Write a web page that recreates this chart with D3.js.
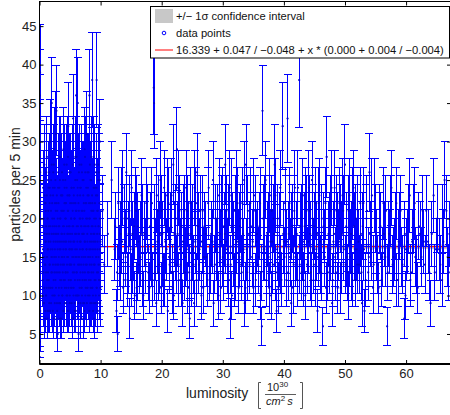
<!DOCTYPE html>
<html>
<head>
<meta charset="utf-8">
<script src="https://cdn.jsdelivr.net/npm/d3@7"></script>
<style>
  body { margin: 0; background: #fff; }
  text { font-family: "Liberation Sans", Arial, Helvetica, sans-serif; }
</style>
</head>
<body>
<div id="chart"></div>
<script>
// [luminosity, counts per 5 min]
const offPoints = [
  [0.05, 2], [0.08, 4], [0.1, 5], [0.06, 7], [0.12, 8], [0.09, 10], [0.04, 11], [0.11, 13],
  [0.07, 15], [0.13, 17], [0.05, 19], [0.1, 21], [0.08, 23], [0.12, 26], [0.06, 28], [0.09, 30],
  [0.11, 33], [0.07, 36], [0.1, 39], [0.05, 42]
];

const densePoints = [
  [0.55, 12], [0.62, 19], [0.68, 9], [0.75, 15], [0.81, 23], [0.87, 14], [0.93, 8], [0.98, 17],
  [1.03, 21], [1.08, 13], [1.12, 26], [1.17, 11], [1.22, 18], [1.27, 15], [1.31, 7], [1.36, 20],
  [1.41, 16], [1.46, 24], [1.51, 12], [1.55, 19], [1.6, 9], [1.65, 22], [1.7, 14], [1.75, 30],
  [1.8, 17], [1.85, 11], [1.9, 25], [1.95, 15],
  [2.0, 35], [2.04, 13], [2.09, 20], [2.13, 16], [2.18, 8], [2.22, 23], [2.27, 18], [2.31, 12],
  [2.36, 27], [2.4, 15], [2.45, 19], [2.5, 10], [2.54, 22], [2.59, 14], [2.63, 17], [2.68, 31],
  [2.72, 13], [2.77, 34], [2.82, 18], [2.86, 9], [2.91, 21], [2.96, 16],
  [3.0, 5], [3.04, 24], [3.09, 14], [3.13, 19], [3.18, 11], [3.22, 17], [3.27, 28], [3.31, 13],
  [3.36, 20], [3.4, 7], [3.45, 16], [3.5, 23], [3.54, 12], [3.59, 18], [3.63, 15], [3.68, 26],
  [3.72, 10], [3.77, 21], [3.82, 14], [3.86, 17], [3.91, 29], [3.95, 12],
  [4.0, 19], [4.04, 15], [4.09, 22], [4.13, 9], [4.18, 17], [4.22, 25], [4.27, 13], [4.31, 20],
  [4.36, 16], [4.4, 11], [4.45, 27], [4.5, 14], [4.54, 18], [4.59, 8], [4.63, 21], [4.68, 15],
  [4.72, 32], [4.77, 12], [4.82, 19], [4.86, 16], [4.91, 23], [4.95, 10],
  [5.0, 18], [5.04, 14], [5.09, 26], [5.13, 12], [5.18, 20], [5.22, 16], [5.27, 9], [5.31, 22],
  [5.36, 15], [5.4, 19], [5.45, 13], [5.5, 33], [5.54, 17], [5.59, 11], [5.63, 24], [5.68, 14],
  [5.72, 20], [5.77, 8], [5.82, 18], [5.86, 28], [5.91, 15], [5.95, 21],
  [6.0, 36], [6.04, 13], [6.09, 19], [6.13, 16], [6.18, 10], [6.22, 23], [6.27, 35], [6.31, 14],
  [6.36, 18], [6.4, 5], [6.45, 21], [6.5, 15], [6.54, 27], [6.59, 12], [6.63, 17], [6.68, 20],
  [6.72, 9], [6.77, 24], [6.82, 14], [6.86, 19], [6.91, 11], [6.95, 26],
  [7.0, 16], [7.04, 21], [7.09, 13], [7.13, 18], [7.18, 7], [7.22, 25], [7.27, 15], [7.31, 19],
  [7.36, 12], [7.4, 29], [7.45, 17], [7.5, 10], [7.54, 22], [7.59, 14], [7.63, 20], [7.68, 16],
  [7.72, 31], [7.77, 11], [7.82, 18], [7.86, 23], [7.91, 13], [7.95, 19],
  [8.0, 15], [8.04, 26], [8.09, 12], [8.13, 20], [8.18, 36], [8.22, 14], [8.27, 17], [8.31, 9],
  [8.36, 22], [8.4, 16], [8.45, 28], [8.5, 13], [8.54, 19], [8.59, 11], [8.63, 38], [8.68, 15],
  [8.72, 21], [8.77, 8], [8.82, 18], [8.86, 24], [8.91, 14], [8.95, 20],
  [9.0, 12], [9.05, 27], [9.1, 16], [9.15, 19], [9.2, 10], [9.25, 23], [9.3, 15], [9.35, 38],
  [9.4, 13], [9.45, 21], [9.5, 17], [9.55, 9], [9.6, 25], [9.65, 14], [9.7, 19], [9.75, 12],
  [9.8, 22], [9.85, 16], [9.9, 30], [9.95, 11]
];

const densePoints2 = [
  [0.58, 16], [0.65, 13], [0.71, 20], [0.78, 11], [0.84, 18], [0.9, 22], [0.96, 14],
  [1.01, 17], [1.06, 10], [1.1, 19], [1.15, 15], [1.2, 23], [1.25, 12], [1.29, 20], [1.34, 16],
  [1.39, 13], [1.44, 21], [1.49, 17], [1.53, 8], [1.58, 18], [1.63, 14], [1.68, 24], [1.73, 11],
  [1.78, 19], [1.83, 16], [1.88, 21], [1.93, 13], [1.98, 18],
  [2.02, 15], [2.07, 22], [2.11, 11], [2.16, 19], [2.2, 14], [2.25, 26], [2.29, 17], [2.34, 10],
  [2.38, 20], [2.43, 13], [2.48, 24], [2.52, 16], [2.57, 18], [2.61, 12], [2.66, 21], [2.7, 15],
  [2.75, 19], [2.8, 7], [2.84, 23], [2.89, 14], [2.93, 17], [2.98, 20],
  [3.02, 13], [3.07, 18], [3.11, 22], [3.16, 15], [3.2, 9], [3.25, 19], [3.29, 16], [3.34, 25],
  [3.38, 12], [3.43, 20], [3.48, 14], [3.52, 17], [3.57, 21], [3.61, 11], [3.66, 18], [3.7, 15],
  [3.75, 23], [3.8, 13], [3.84, 19], [3.89, 16], [3.93, 8], [3.98, 21],
  [4.02, 14], [4.07, 18], [4.11, 24], [4.16, 12], [4.2, 20], [4.25, 16], [4.29, 13], [4.34, 22],
  [4.38, 17], [4.43, 10], [4.48, 19], [4.52, 15], [4.57, 23], [4.61, 13], [4.66, 18], [4.7, 21],
  [4.75, 11], [4.8, 17], [4.84, 26], [4.89, 14], [4.93, 19], [4.98, 16],
  [5.02, 22], [5.07, 12], [5.11, 17], [5.16, 20], [5.2, 14], [5.25, 24], [5.29, 11], [5.34, 18],
  [5.38, 16], [5.43, 21], [5.48, 7], [5.52, 19], [5.57, 15], [5.61, 23], [5.66, 13], [5.7, 17],
  [5.75, 20], [5.8, 12], [5.84, 16], [5.89, 22], [5.93, 10], [5.98, 18],
  [6.02, 15], [6.07, 21], [6.11, 13], [6.16, 25], [6.2, 17], [6.25, 12], [6.29, 19], [6.34, 15],
  [6.38, 22], [6.43, 10], [6.48, 18], [6.52, 14], [6.57, 20], [6.61, 16], [6.66, 24], [6.7, 13],
  [6.75, 17], [6.8, 19], [6.84, 11], [6.89, 21], [6.93, 15], [6.98, 18],
  [7.02, 12], [7.07, 20], [7.11, 16], [7.16, 23], [7.2, 14], [7.25, 18], [7.29, 9], [7.34, 21],
  [7.38, 17], [7.43, 13], [7.48, 26], [7.52, 15], [7.57, 19], [7.61, 12], [7.66, 22], [7.7, 16],
  [7.75, 14], [7.8, 20], [7.84, 17], [7.89, 11], [7.93, 24], [7.98, 15],
  [8.02, 19], [8.07, 13], [8.11, 22], [8.16, 16], [8.2, 10], [8.25, 20], [8.29, 15], [8.34, 25],
  [8.38, 12], [8.43, 18], [8.48, 21], [8.52, 14], [8.57, 17], [8.61, 23], [8.66, 11], [8.7, 19],
  [8.75, 16], [8.8, 13], [8.84, 21], [8.89, 17], [8.93, 9], [8.98, 18],
  [9.03, 14], [9.08, 22], [9.13, 17], [9.18, 12], [9.23, 20], [9.28, 15], [9.33, 24], [9.38, 11],
  [9.43, 18], [9.48, 16], [9.53, 21], [9.58, 13], [9.63, 19], [9.68, 15], [9.73, 26], [9.78, 12],
  [9.83, 18], [9.88, 20], [9.93, 14], [9.97, 17]
];

const densePoints3 = [
  [0.6, 24], [0.7, 9], [0.8, 27], [0.9, 7], [1.0, 22], [1.1, 10], [1.2, 28], [1.3, 8],
  [1.4, 25], [1.5, 11], [1.6, 26], [1.7, 8], [1.8, 23], [1.9, 9], [2.0, 27], [2.1, 10],
  [2.2, 24], [2.3, 7], [2.4, 29], [2.5, 9], [2.6, 25], [2.7, 11], [2.8, 22], [2.9, 8],
  [3.05, 26], [3.15, 10], [3.25, 24], [3.35, 9], [3.45, 28], [3.55, 7], [3.65, 23], [3.75, 10],
  [3.85, 25], [3.95, 8], [4.05, 27], [4.15, 11], [4.25, 22], [4.35, 9], [4.45, 24], [4.55, 10],
  [4.65, 28], [4.75, 8], [4.85, 23], [4.95, 9], [5.05, 26], [5.15, 11], [5.25, 24], [5.35, 7],
  [5.45, 27], [5.55, 10], [5.65, 22], [5.75, 9], [5.85, 25], [5.95, 8], [6.05, 28], [6.15, 10],
  [6.25, 24], [6.35, 9], [6.45, 26], [6.55, 11], [6.65, 23], [6.75, 7], [6.85, 27], [6.95, 10],
  [7.05, 25], [7.15, 9], [7.25, 22], [7.35, 8], [7.45, 28], [7.55, 11], [7.65, 24], [7.75, 9],
  [7.85, 26], [7.95, 10], [8.05, 23], [8.15, 8], [8.25, 27], [8.35, 11], [8.45, 25], [8.55, 9],
  [8.65, 22], [8.75, 10], [8.85, 28], [8.95, 7], [9.05, 24], [9.15, 9], [9.25, 26], [9.35, 11],
  [9.45, 23], [9.55, 8], [9.65, 27], [9.75, 10], [9.85, 25], [9.92, 9]
];

const sparsePoints = [
  [10.3, 21], [10.6, 14], [11.2, 18], [11.8, 25], [12.3, 16], [12.6, 8], [12.8, 5], [13.0, 19],
  [13.2, 13], [13.4, 22], [13.5, 17], [13.7, 11], [13.9, 20], [14.1, 15], [14.2, 26], [14.4, 12],
  [14.6, 18], [14.8, 7], [14.9, 16], [15.1, 24], [15.3, 14], [15.5, 19], [15.6, 10], [15.8, 21],
  [16.0, 13], [16.2, 17], [16.5, 15], [16.7, 23], [16.9, 12], [17.2, 18], [17.4, 14], [17.7, 20],
  [18.0, 11], [18.2, 16], [18.4, 22], [18.7, 37], [18.75, 35], [18.9, 13], [19.1, 9], [19.3, 17],
  [19.4, 21], [19.6, 14], [19.8, 25], [19.9, 11], [20.1, 18], [20.2, 15], [20.4, 24], [20.5, 12],
  [20.7, 19], [20.8, 16], [21.0, 8], [21.1, 22], [21.3, 14], [21.4, 17], [21.6, 23], [21.7, 13],
  [21.9, 27], [22.0, 10], [22.2, 16], [22.3, 20], [22.5, 29], [22.6, 18], [22.8, 12], [22.9, 21],
  [23.1, 14], [23.2, 19], [23.4, 9], [23.5, 17], [23.7, 21], [23.8, 13], [24.0, 24], [24.1, 16],
  [24.3, 11], [24.4, 18], [24.6, 7], [24.7, 22], [24.9, 12], [25.0, 20], [25.2, 14], [25.3, 9],
  [25.5, 17], [25.6, 22], [25.8, 26], [26.0, 19], [26.2, 16], [26.5, 10], [26.7, 21], [26.9, 15],
  [27.2, 18], [27.5, 12], [27.7, 24], [28.0, 14], [28.3, 17], [28.5, 9], [28.8, 20], [29.0, 16],
  [29.2, 13], [29.4, 23], [29.5, 18], [29.7, 11], [29.9, 22], [30.0, 15], [30.2, 19], [30.4, 27],
  [30.5, 17], [30.6, 21], [30.8, 14], [30.9, 20], [31.0, 12], [31.2, 7], [31.4, 23], [31.5, 10],
  [31.7, 18], [31.8, 15], [32.0, 21], [32.1, 13], [32.3, 24], [32.5, 17], [32.6, 11], [32.8, 19],
  [33.0, 14], [33.2, 22], [33.4, 16], [33.6, 9], [33.8, 27], [34.0, 13], [34.3, 18], [34.5, 22],
  [34.8, 15], [35.0, 11], [35.3, 21], [35.5, 17], [35.8, 14], [36.0, 19], [36.2, 10], [36.4, 6],
  [36.5, 34], [36.7, 16], [36.9, 21], [37.1, 12], [37.3, 18], [37.5, 15], [37.7, 23], [37.9, 10],
  [38.1, 17], [38.3, 20], [38.5, 27], [38.8, 8], [38.9, 16], [39.1, 11], [39.3, 19], [39.5, 14],
  [39.8, 32], [40.0, 17], [40.2, 22], [40.4, 12], [40.6, 33], [40.8, 18], [41.0, 15], [41.2, 9],
  [41.4, 20], [41.6, 14], [41.8, 24], [42.0, 16], [42.2, 12], [42.5, 38], [42.7, 19], [42.9, 13],
  [43.1, 23], [43.3, 17], [43.5, 10], [43.7, 21], [43.9, 15], [44.1, 24], [44.3, 18], [44.5, 12],
  [44.7, 20], [44.9, 14], [45.1, 22], [45.3, 16], [45.5, 8], [45.7, 22], [45.9, 17], [46.1, 13],
  [46.4, 6], [46.5, 19], [46.7, 15], [46.9, 11], [47.0, 28], [47.3, 18], [47.5, 14], [47.7, 21],
  [47.9, 9], [48.1, 17], [48.3, 24], [48.5, 13], [48.7, 19], [48.9, 16], [49.1, 22], [49.3, 11],
  [49.5, 18], [49.7, 21], [50.0, 27], [50.1, 14], [50.3, 15], [50.5, 10], [50.7, 23], [50.9, 17],
  [51.1, 13], [51.3, 22], [51.5, 19], [51.7, 12], [51.9, 16], [52.1, 21], [52.3, 14], [52.6, 18],
  [52.8, 9], [53.0, 22], [53.2, 8], [53.5, 20], [53.8, 13], [54.0, 26], [54.3, 16], [54.6, 11],
  [54.9, 23], [55.1, 17], [55.4, 14], [55.7, 20], [56.0, 12], [56.3, 22], [56.6, 15], [56.9, 6],
  [57.2, 18], [57.5, 21], [57.8, 14], [58.1, 16], [58.4, 22], [58.7, 12], [59.0, 19], [59.3, 15],
  [59.7, 7], [59.9, 10], [60.2, 17], [60.6, 23], [60.8, 13], [61.2, 20], [61.5, 15], [61.9, 11],
  [62.3, 18], [62.7, 21], [63.1, 14], [63.6, 17], [64.0, 9], [64.5, 23], [64.7, 13], [65.4, 16],
  [65.9, 12], [66.0, 20], [66.3, 25], [66.8, 15], [67.1, 18]
];

const sparsePoints2 = [
  [12.4, 19], [12.7, 13], [12.9, 22], [13.1, 15], [13.3, 18], [13.6, 24], [13.8, 12], [14.0, 17],
  [14.3, 20], [14.5, 14], [14.7, 21], [15.0, 12], [15.2, 18], [15.4, 16], [15.7, 22], [15.9, 11],
  [16.1, 19], [16.3, 14], [16.6, 18], [16.8, 20], [17.0, 10], [17.3, 16], [17.5, 22], [17.8, 13],
  [18.1, 19], [18.3, 15], [18.5, 12], [18.8, 20], [19.0, 16], [19.2, 23], [19.5, 13], [19.7, 18],
  [20.0, 21], [20.3, 12], [20.6, 17], [20.9, 23], [21.2, 15], [21.5, 19], [21.8, 11], [22.1, 18],
  [22.4, 14], [22.7, 24], [23.0, 16], [23.3, 12], [23.6, 20], [23.9, 15], [24.2, 21], [24.5, 13],
  [24.8, 18], [25.1, 16], [25.4, 24], [25.7, 12], [25.9, 19], [26.1, 14], [26.3, 21], [26.6, 17],
  [26.8, 11], [27.0, 19], [27.3, 15], [27.6, 22], [27.9, 13], [28.1, 18], [28.4, 25], [28.7, 14],
  [28.9, 16], [29.1, 20], [29.3, 10], [29.6, 17], [29.8, 21], [30.1, 13], [30.35, 18], [30.7, 16],
  [31.1, 24], [31.3, 14], [31.6, 19], [31.9, 12], [32.2, 17], [32.4, 22], [32.7, 15], [32.9, 20],
  [33.1, 13], [33.3, 18], [33.5, 25], [33.7, 11], [33.9, 16], [34.1, 21], [34.4, 14], [34.6, 19],
  [34.9, 17], [35.1, 23], [35.4, 12], [35.6, 18], [35.9, 15], [36.1, 22], [36.3, 13], [36.6, 20],
  [36.8, 16], [37.0, 25], [37.2, 14], [37.4, 19], [37.6, 11], [37.8, 17], [38.0, 21], [38.2, 14],
  [38.4, 18], [38.6, 23], [38.7, 13], [39.0, 20], [39.2, 15], [39.4, 24], [39.6, 12], [39.9, 18],
  [40.1, 15], [40.3, 21], [40.5, 17], [40.7, 13], [40.9, 22], [41.1, 16], [41.3, 19], [41.5, 11],
  [41.7, 21], [41.9, 15], [42.1, 18], [42.3, 24], [42.6, 14], [42.8, 20], [43.0, 16], [43.2, 12],
  [43.4, 19], [43.6, 22], [43.8, 14], [44.0, 17], [44.2, 21], [44.4, 13], [44.6, 25], [44.8, 16],
  [45.0, 19], [45.2, 12], [45.4, 18], [45.6, 15], [45.8, 23], [46.0, 14], [46.2, 20], [46.6, 17],
  [46.8, 22], [47.2, 13], [47.4, 19], [47.6, 16], [47.8, 24], [48.0, 12], [48.2, 18], [48.4, 15],
  [48.6, 21], [48.8, 11], [49.0, 17], [49.2, 20], [49.4, 14], [49.6, 23], [49.8, 16], [50.2, 19],
  [50.4, 13], [50.6, 21], [50.8, 15], [51.0, 18], [51.2, 12], [51.4, 24], [51.6, 16], [51.8, 20],
  [52.0, 14], [52.2, 17], [52.5, 22], [52.7, 13], [52.9, 19], [53.1, 16], [53.4, 12], [53.6, 21],
  [53.9, 15], [54.1, 18], [54.4, 23], [54.7, 14], [55.0, 20], [55.2, 16], [55.5, 11], [55.8, 19],
  [56.1, 15], [56.4, 18], [56.7, 21], [57.0, 13], [57.3, 17], [57.6, 24], [57.9, 15], [58.2, 19],
  [58.5, 12], [58.8, 17], [59.1, 21], [59.4, 14], [59.8, 18], [60.0, 16], [60.4, 20], [60.7, 12],
  [61.0, 17], [61.4, 22], [61.7, 14], [62.1, 19], [62.5, 15], [62.9, 17], [63.3, 21], [63.8, 13],
  [64.2, 18], [64.9, 16], [65.1, 20], [65.6, 14], [66.1, 17], [66.6, 21], [67.0, 13]
];

// fit: a (+da / -da) + x * (b (+db / -db))
const fitIntercept = [16.339, 0.047, 0.048];
const fitSlope = [0.000, 0.004, 0.004];

const xTicks = [0, 10, 20, 30, 40, 50, 60];
const yTicks = [5, 10, 15, 20, 25, 30, 35, 40, 45];
const legendLabels = [
  "+/\u2212 1\u03c3 confidence interval",
  "data points",
  "16.339 + 0.047 / \u22120.048 + x * (0.000 + 0.004 / \u22120.004)"
];

const width = 450, height = 415;
const plot = { left: 39.5, right: 451, top: 1.5, bottom: 364 };

const svg = d3.select("#chart").append("svg")
  .attr("width", width)
  .attr("height", height);

const x = d3.scaleLinear().domain([0, 67.35]).range([plot.left, plot.right]);
const y = d3.scaleLinear().domain([1.1, 48.2]).range([plot.bottom, plot.top]);

svg.append("clipPath").attr("id", "clip")
  .append("rect")
  .attr("x", plot.left).attr("y", plot.top)
  .attr("width", plot.right - plot.left).attr("height", plot.bottom - plot.top);

const body = svg.append("g").attr("clip-path", "url(#clip)");

// confidence band + fit line
const fitX = [0, 67.35];
body.append("path")
  .datum(fitX)
  .attr("fill", "#c8c8c8")
  .attr("d", d3.area()
    .x((d) => x(d))
    .y0((d) => y(fitIntercept[0] - fitIntercept[2] + d * (fitSlope[0] - fitSlope[2])))
    .y1((d) => y(fitIntercept[0] + fitIntercept[1] + d * (fitSlope[0] + fitSlope[1]))));

body.append("path")
  .datum(fitX)
  .attr("fill", "none")
  .attr("stroke", "#ff0000")
  .attr("stroke-width", 1.2)
  .attr("d", d3.line().x((d) => x(d)).y((d) => y(fitIntercept[0] + d * fitSlope[0])));

// error bars (poisson, sqrt(n))
const allPoints = offPoints.concat(densePoints, densePoints2, densePoints3, sparsePoints, sparsePoints2);
const cap = 4;

body.append("g")
  .attr("shape-rendering", "crispEdges")
  .selectAll("path")
  .data(allPoints)
  .enter()
  .append("path")
  .attr("fill", "none")
  .attr("stroke", "#0000ff")
  .attr("stroke-width", 1)
  .attr("d", (d) => {
    const cx = x(d[0]);
    const e = Math.sqrt(d[1]);
    const lo = y(d[1] - e), hi = y(d[1] + e);
    return `M${cx},${lo}V${hi}M${cx - cap},${hi}H${cx + cap}M${cx - cap},${lo}H${cx + cap}`;
  });

body.append("g")
  .selectAll("circle")
  .data(allPoints)
  .enter()
  .append("circle")
  .attr("cx", (d) => x(d[0]))
  .attr("cy", (d) => y(d[1]))
  .attr("r", 1.1)
  .attr("fill", "#0000cc");

// axes, ticks pointing inwards
const bottomAxis = svg.append("g")
  .attr("transform", `translate(0,${plot.bottom})`)
  .call(d3.axisBottom(x).tickValues(xTicks).tickSizeInner(-4).tickSizeOuter(0).tickPadding(5));
const leftAxis = svg.append("g")
  .attr("transform", `translate(${plot.left},0)`)
  .call(d3.axisLeft(y).tickValues(yTicks).tickSizeInner(-4).tickSizeOuter(0).tickPadding(3));
const topAxis = svg.append("g")
  .attr("transform", `translate(0,${plot.top})`)
  .call(d3.axisTop(x).tickValues(xTicks).tickSizeInner(-4).tickSizeOuter(0).tickFormat(""));
const rightAxis = svg.append("g")
  .attr("transform", `translate(${plot.right},0)`)
  .call(d3.axisRight(y).tickValues(yTicks).tickSizeInner(-4).tickSizeOuter(0).tickFormat(""));

[bottomAxis, leftAxis, topAxis, rightAxis].forEach((g) => {
  g.select(".domain").remove();
  g.attr("font-family", "Liberation Sans, Arial, sans-serif").attr("font-size", 13);
  g.selectAll("text").attr("fill", "#222");
});

svg.append("rect")
  .attr("x", plot.left).attr("y", plot.top)
  .attr("width", plot.right - plot.left).attr("height", plot.bottom - plot.top)
  .attr("fill", "none").attr("stroke", "#000").attr("stroke-width", 1);
svg.append("line")
  .attr("x1", plot.left).attr("x2", plot.right)
  .attr("y1", plot.bottom).attr("y2", plot.bottom)
  .attr("stroke", "#000").attr("stroke-width", 2);

// axis labels
svg.append("text")
  .attr("transform", "translate(20,184.5) rotate(-90)")
  .attr("text-anchor", "middle")
  .attr("font-size", 14)
  .attr("fill", "#222")
  .text("particles per 5 min");

svg.append("text")
  .attr("x", 186).attr("y", 398)
  .attr("font-size", 14)
  .attr("fill", "#222")
  .text("luminosity");

const unit = svg.append("g").attr("fill", "#222")
  .style("font-family", "'Liberation Serif', 'DejaVu Serif', serif");
unit.append("path")
  .attr("d", "M261,382.5H258.5V408.5H261M300,382.5H302.5V408.5H300")
  .attr("fill", "none").attr("stroke", "#555").attr("stroke-width", 1);
unit.append("line")
  .attr("x1", 265).attr("x2", 296).attr("y1", 394.5).attr("y2", 394.5)
  .attr("stroke", "#333").attr("stroke-width", 0.8);
const num = unit.append("text").attr("x", 267).attr("y", 391).attr("font-size", 11);
num.append("tspan").text("10");
num.append("tspan").attr("dy", -4).attr("font-size", 8).text("30");
const den = unit.append("text").attr("x", 266).attr("y", 405).attr("font-size", 11).attr("font-style", "italic");
den.append("tspan").text("cm");
den.append("tspan").attr("dy", -4).attr("font-size", 8).attr("font-style", "normal").text("2");
den.append("tspan").attr("dy", 4).text("\u2009s");

// legend
const legend = svg.append("g");
legend.append("rect")
  .attr("x", 150.5).attr("y", 6.5).attr("width", 299).attr("height", 51.5)
  .attr("fill", "#fff").attr("stroke", "#000").attr("stroke-width", 1);
legend.append("rect")
  .attr("x", 155).attr("y", 9).attr("width", 18).attr("height", 14)
  .attr("fill", "#c8c8c8");
legend.append("circle")
  .attr("cx", 164).attr("cy", 33).attr("r", 1.8)
  .attr("fill", "none").attr("stroke", "#0000ff").attr("stroke-width", 1);
legend.append("line")
  .attr("x1", 155).attr("x2", 173).attr("y1", 50).attr("y2", 50)
  .attr("stroke", "#ff0000").attr("stroke-width", 1);
legend.selectAll(".label")
  .data(legendLabels)
  .enter()
  .append("text")
  .attr("class", "label")
  .attr("x", 176)
  .attr("y", (d, i) => 20 + i * 17)
  .attr("font-size", 11.2)
  .attr("fill", "#111")
  .text((d) => d);
</script>
</body>
</html>
